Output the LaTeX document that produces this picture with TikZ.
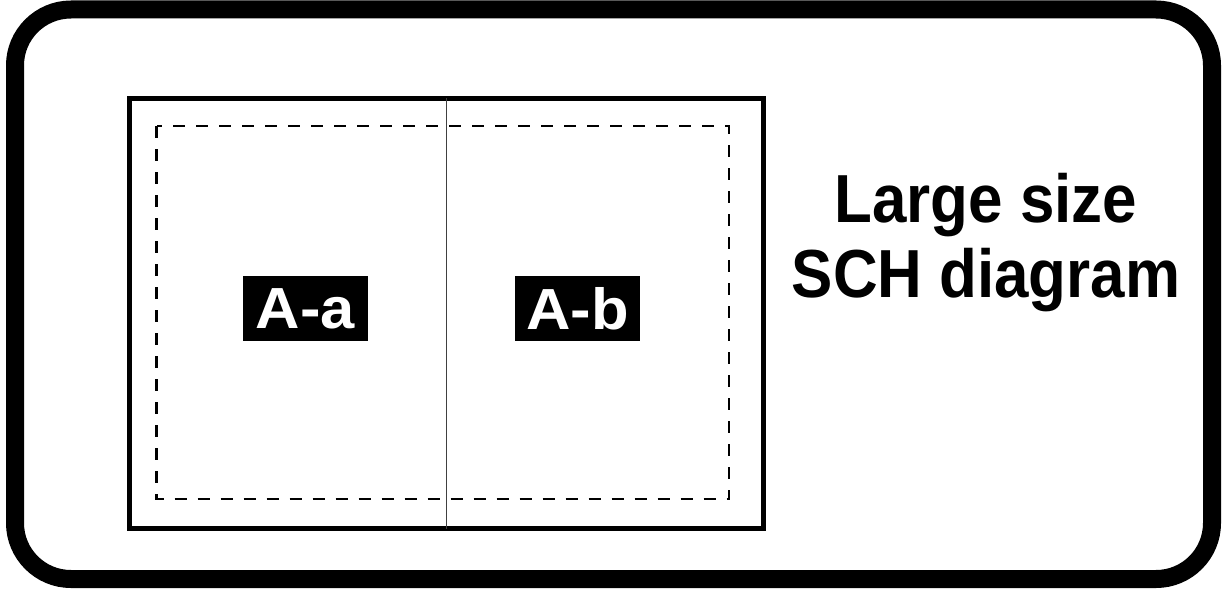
\documentclass[tikz,border=0pt]{standalone}
\usepackage{fontspec}
\setmainfont{Liberation Sans}
\newfontfamily\captionfont[FakeStretch=0.91]{Liberation Sans}
\newfontfamily\tagfont[FakeStretch=1.06]{Liberation Sans}
\begin{document}
\begin{tikzpicture}[x=1pt,y=-1pt,
  frame/.style={draw=black,line width=18pt,rounded corners=56pt},
  sheet/.style={draw=black,line width=5pt},
  printarea/.style={draw=black,line width=2.5pt,dash pattern=on 12pt off 11pt},
  fold/.style={draw=black!75,line width=1.8pt},
  tag/.style={fill=black,text=white,inner sep=0pt,minimum width=125pt,minimum height=65pt,
    font=\tagfont\fontsize{58}{58}\selectfont\bfseries},
  caption/.style={align=center,inner sep=0pt,font=\captionfont\fontsize{68}{75}\selectfont\bfseries}]
  \useasboundingbox (0,0) rectangle (1222,602);
  % outer rounded frame
  \draw[frame] (15,9.5) rectangle (1212,579);
  % the sheet with its two halves
  \draw[sheet] (129.5,98) rectangle (763,528.5);
  \draw[printarea] (156.5,126) rectangle (729,499);
  \coordinate (foldtop) at (446.5,98);
  \coordinate (foldbot) at (446.5,528.5);
  \draw[fold] (foldtop) -- (foldbot);
  % half labels
  \node[tag] (aa) at (305.5,308.5) {A-a};
  \node[tag] (ab) at (577.5,308.5) {A-b};
  % caption (base anchor sits on the last line)
  \node[caption,anchor=base] (title) at (986,297) {Large size\\SCH diagram};
\end{tikzpicture}
\end{document}
